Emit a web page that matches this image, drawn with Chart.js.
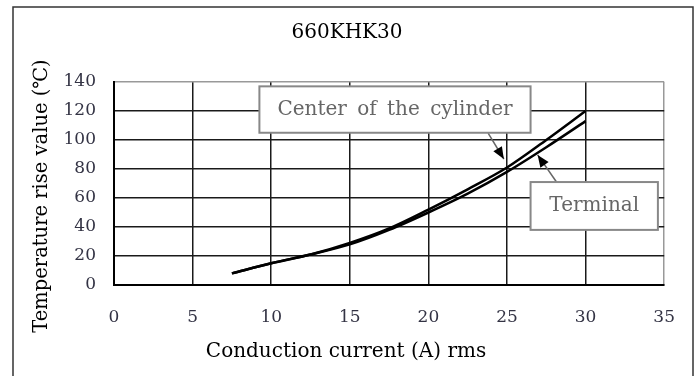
<!DOCTYPE html>
<html>
<head>
<meta charset="utf-8">
<script src="https://cdn.jsdelivr.net/npm/chart.js@4.4.0/dist/chart.umd.min.js"></script>
<style>
  html, body { margin: 0; padding: 0; background: #fff; }
  #wrap { width: 697px; height: 376px; position: relative; }
</style>
</head>
<body>
<div id="wrap"><canvas id="tempChart" width="697" height="376"></canvas></div>
<script>
// 660KHK30 - temperature rise vs. conduction current
const currents = [7.5, 10, 12.5, 15, 17.5, 20, 22.5, 25, 27.5, 30];
const centerRise = [8, 15, 21, 29, 39, 52, 66, 81, 100, 120];
const terminalRise = [8, 15, 21, 28, 38, 50, 63, 78, 95, 113];
const xTicks = [0, 5, 10, 15, 20, 25, 30, 35];
const yTicks = [0, 20, 40, 60, 80, 100, 120, 140];

const chartTitle = '660KHK30';
const xTitle = 'Conduction current (A) rms';
const yTitle = 'Temperature rise value (℃)';

const serif = "'DejaVu Serif', 'Liberation Serif', serif";

// callout boxes and arrows, in data units
const callouts = [
    { text: 'Center of the cylinder', x0: 9.25, x1: 26.5, y0: 137, y1: 105, from: [23.8, 104.8], to: [24.8, 86.9] },
    { text: 'Terminal', x0: 26.5, x1: 34.6, y0: 71, y1: 38, from: [28.15, 71], to: [26.95, 89.7] }
];

const framePlugin = {
    id: 'frame',
    beforeDraw(chart) {
        const ctx = chart.ctx;
        ctx.save();
        ctx.fillStyle = '#fff';
        ctx.fillRect(0, 0, chart.width, chart.height);
        ctx.strokeStyle = '#333';
        ctx.lineWidth = 1.5;
        ctx.strokeRect(13, 7, 680, 400);

        // titles, centred on the whole frame as in the original
        ctx.fillStyle = '#000';
        ctx.textAlign = 'center';
        ctx.textBaseline = 'middle';
        ctx.font = '20px ' + serif;
        ctx.fillText(chartTitle, 347, 33);
        ctx.fillText(xTitle, 346, 352);
        ctx.translate(42, 196);
        ctx.rotate(-Math.PI / 2);
        ctx.font = '19.5px ' + serif;
        ctx.fillText(yTitle, 0, 0);
        ctx.restore();
    }
};

const calloutPlugin = {
    id: 'callouts',
    afterDatasetsDraw(chart) {
        const ctx = chart.ctx;
        const xs = chart.scales.x, ys = chart.scales.y;
        ctx.save();
        callouts.forEach(c => {
            // arrow line
            const fx = xs.getPixelForValue(c.from[0]), fy = ys.getPixelForValue(c.from[1]);
            const tx = xs.getPixelForValue(c.to[0]), ty = ys.getPixelForValue(c.to[1]);
            ctx.strokeStyle = '#666';
            ctx.lineWidth = 1.5;
            ctx.beginPath();
            ctx.moveTo(fx, fy);
            ctx.lineTo(tx, ty);
            ctx.stroke();
            const ang = Math.atan2(ty - fy, tx - fx);
            ctx.fillStyle = '#000';
            ctx.beginPath();
            ctx.moveTo(tx, ty);
            ctx.lineTo(tx - 12 * Math.cos(ang) + 5 * Math.sin(ang), ty - 12 * Math.sin(ang) - 5 * Math.cos(ang));
            ctx.lineTo(tx - 12 * Math.cos(ang) - 5 * Math.sin(ang), ty - 12 * Math.sin(ang) + 5 * Math.cos(ang));
            ctx.closePath();
            ctx.fill();

            // box
            const l = xs.getPixelForValue(c.x0), r = xs.getPixelForValue(c.x1);
            const t = ys.getPixelForValue(c.y0), b = ys.getPixelForValue(c.y1);
            ctx.fillStyle = '#fff';
            ctx.fillRect(l, t, r - l, b - t);
            ctx.strokeStyle = '#888';
            ctx.lineWidth = 2;
            ctx.strokeRect(l, t, r - l, b - t);
            ctx.fillStyle = '#666';
            ctx.font = '20px ' + serif;
            ctx.textAlign = 'center';
            ctx.textBaseline = 'middle';
            if ('wordSpacing' in ctx) ctx.wordSpacing = '4px';
            ctx.fillText(c.text, (l + r) / 2, (t + b) / 2);
            if ('wordSpacing' in ctx) ctx.wordSpacing = '0px';
        });
        ctx.restore();
    }
};

const ctx = document.getElementById('tempChart').getContext('2d');
new Chart(ctx, {
    type: 'line',
    data: {
        datasets: [
            {
                label: 'Center of the cylinder',
                data: currents.map((c, i) => ({ x: c, y: centerRise[i] })),
                borderColor: '#000',
                borderWidth: 2.5,
                pointRadius: 0,
                cubicInterpolationMode: 'monotone',
                fill: false
            },
            {
                label: 'Terminal',
                data: currents.map((c, i) => ({ x: c, y: terminalRise[i] })),
                borderColor: '#000',
                borderWidth: 2.5,
                pointRadius: 0,
                cubicInterpolationMode: 'monotone',
                fill: false
            }
        ]
    },
    options: {
        responsive: false,
        animation: false,
        layout: { padding: { left: 0, right: 31, top: 82, bottom: 0 } },
        plugins: {
            legend: { display: false },
            tooltip: { enabled: false },
            title: { display: false }
        },
        scales: {
            x: {
                type: 'linear',
                min: 0,
                max: 35,
                afterBuildTicks: s => { s.ticks = xTicks.map(v => ({ value: v })); },
                afterFit: s => { s.height = 91; },
                grid: {
                    color: c => c.tick && c.tick.value === 35 ? '#999' : '#1a1a1a',
                    lineWidth: 1.5,
                    drawTicks: false
                },
                border: { color: '#000', width: 2 },
                ticks: {
                    color: '#333344',
                    padding: 22,
                    maxRotation: 0,
                    font: { family: serif, size: 17 }
                }
            },
            y: {
                min: 0,
                max: 140,
                afterBuildTicks: s => { s.ticks = yTicks.map(v => ({ value: v })); },
                afterFit: s => { s.width = 114; },
                grid: {
                    color: c => c.tick && c.tick.value === 140 ? '#999' : '#1a1a1a',
                    lineWidth: 1.5,
                    drawTicks: false
                },
                border: { color: '#000', width: 2 },
                ticks: {
                    color: '#333344',
                    padding: 18,
                    font: { family: serif, size: 17 }
                }
            }
        }
    },
    plugins: [framePlugin, calloutPlugin]
});
</script>
</body>
</html>
